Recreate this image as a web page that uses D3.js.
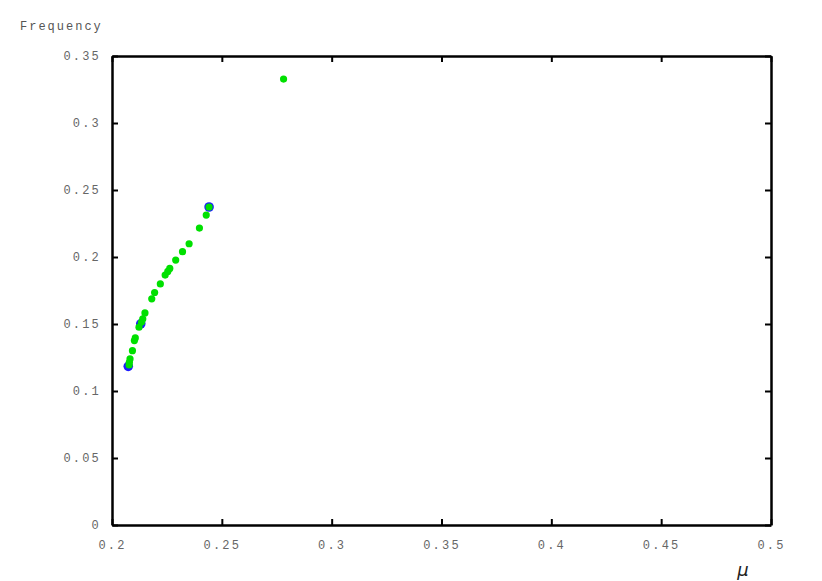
<!DOCTYPE html>
<html>
<head>
<meta charset="utf-8">
<script src="https://d3js.org/d3.v7.min.js"></script>
<style>
  body { margin: 0; background: #fff; }
  .tick text { font-family: "Liberation Mono", monospace; font-size: 12px; fill: #666; letter-spacing: 2.2px; }
</style>
</head>
<body>
<div id="graph"></div>
<script>
// values
var muGreen = [0.2078, 0.2079, 0.2082, 0.2093, 0.2102, 0.2106, 0.2123, 0.2134, 0.2140, 0.2150,
               0.2181, 0.2194, 0.2220, 0.2242, 0.2254, 0.2263, 0.2290, 0.2321, 0.2351, 0.2398,
               0.2429, 0.2442, 0.2781];
var freqGreen = [0.1194, 0.1214, 0.1239, 0.1301, 0.1376, 0.1396, 0.1476, 0.1513, 0.1538, 0.1583,
                 0.1688, 0.1735, 0.1799, 0.1865, 0.1892, 0.1915, 0.1977, 0.2040, 0.2099, 0.2216,
                 0.2313, 0.2373, 0.3328];
var muBlue = [0.2074, 0.2131, 0.2442];
var freqBlue = [0.1184, 0.1501, 0.2373];

var xTicks = [0.2, 0.25, 0.3, 0.35, 0.4, 0.45, 0.5];
var yTicks = [0, 0.05, 0.1, 0.15, 0.2, 0.25, 0.3, 0.35];
var xlabel = "\u03bc";
var ylabel = "Frequency";

var margin = {top: 56, right: 51, bottom: 56, left: 112},
    width = 822 - margin.left - margin.right,
    height = 581 - margin.top - margin.bottom;

var svg = d3.select("#graph")
  .append("svg")
    .attr("width", width + margin.left + margin.right)
    .attr("height", height + margin.top + margin.bottom)
  .append("g")
    .attr("transform", "translate(" + margin.left + "," + margin.top + ")");

var x = d3.scaleLinear().domain([0.2, 0.5]).range([0, width]);
var y = d3.scaleLinear().domain([0, 0.35]).range([height, 0]);

var fmt = function (d) { return String(+d.toFixed(2)); };

// ticks point inwards on all four sides
var xAxis = svg.append("g")
  .attr("transform", "translate(0," + height + ")")
  .call(d3.axisBottom(x).tickValues(xTicks).tickFormat(fmt).tickSize(-6).tickSizeOuter(0).tickPadding(15));
var yAxis = svg.append("g")
  .call(d3.axisLeft(y).tickValues(yTicks).tickFormat(fmt).tickSize(-6).tickSizeOuter(0).tickPadding(11));
var xTop = svg.append("g")
  .call(d3.axisTop(x).tickValues(xTicks).tickFormat("").tickSize(-6).tickSizeOuter(0));
var yRight = svg.append("g")
  .attr("transform", "translate(" + width + ",0)")
  .call(d3.axisRight(y).tickValues(yTicks).tickFormat("").tickSize(-6).tickSizeOuter(0));

svg.selectAll(".domain").attr("stroke", "#000").attr("stroke-width", 2.5);
svg.selectAll(".tick line").attr("stroke", "#000").attr("stroke-width", 2);

// axis labels
svg.append("text")
  .attr("x", 20 - margin.left)
  .attr("y", 30 - margin.top)
  .style("font-family", "Liberation Mono, monospace")
  .style("font-size", "12px")
  .style("letter-spacing", "2px")
  .style("fill", "#555")
  .text(ylabel);

svg.append("text")
  .attr("x", 743 - margin.left)
  .attr("y", 576 - margin.top)
  .style("font-family", "DejaVu Sans, sans-serif")
  .style("font-style", "italic")
  .style("font-size", "18px")
  .style("text-anchor", "middle")
  .style("fill", "#222")
  .text(xlabel);

// blue rings underneath, green dots over them
svg.append("g").selectAll("circle")
  .data(d3.range(muBlue.length))
  .enter().append("circle")
    .attr("cx", function (i) { return x(muBlue[i]); })
    .attr("cy", function (i) { return y(freqBlue[i]); })
    .attr("r", 4.8)
    .style("fill", "#1a1aff");

svg.append("g").selectAll("circle")
  .data(d3.range(muGreen.length))
  .enter().append("circle")
    .attr("cx", function (i) { return x(muGreen[i]); })
    .attr("cy", function (i) { return y(freqGreen[i]); })
    .attr("r", 3.6)
    .style("fill", "#00e000");
</script>
</body>
</html>
